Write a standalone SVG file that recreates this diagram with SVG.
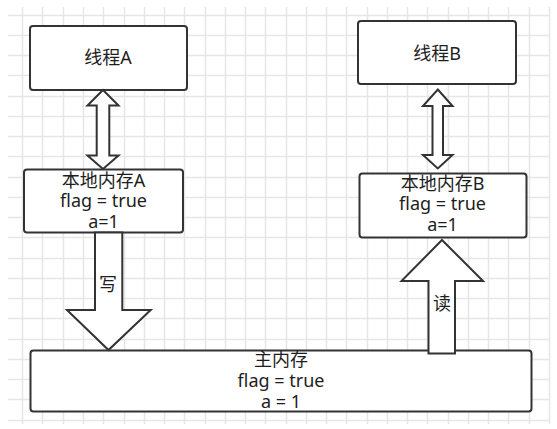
<svg xmlns="http://www.w3.org/2000/svg" width="557" height="429" viewBox="0 0 557 429">
<style>
.grid{stroke:#e6e6e6;stroke-width:1.5;fill:none}
.box{fill:#ffffff;stroke:#333333;stroke-width:2}
.arrow{fill:#ffffff;stroke:#333333;stroke-width:2;stroke-linejoin:miter}
.t{font-family:"Noto Sans","Noto Sans CJK SC",sans-serif;font-size:18px;fill:#1e1e1e;text-anchor:middle}
</style>
<rect width="557" height="429" fill="#ffffff"/>
<path class="grid" d="M22.5 7V424M42.5 7V424M63.5 7V424M83.5 7V424M103.5 7V424M124.5 7V424M144.5 7V424M164.5 7V424M184.5 7V424M205.5 7V424M225.5 7V424M245.5 7V424M265.5 7V424M286.5 7V424M306.5 7V424M326.5 7V424M346.5 7V424M367.5 7V424M387.5 7V424M407.5 7V424M427.5 7V424M448.5 7V424M468.5 7V424M488.5 7V424M508.5 7V424M529.5 7V424M549.5 7V424M8 15.5H550M8 35.5H550M8 55.5H550M8 75.5H550M8 96.5H550M8 116.5H550M8 136.5H550M8 156.5H550M8 177.5H550M8 197.5H550M8 217.5H550M8 237.5H550M8 258.5H550M8 278.5H550M8 298.5H550M8 318.5H550M8 339.5H550M8 359.5H550M8 379.5H550M8 399.5H550M8 420.5H550"/>
<g id="threadA">
<rect class="box" x="30" y="26" width="157" height="64" rx="3"/>
<text class="t" x="108" y="64">线程A</text>
</g>
<g id="threadB">
<rect class="box" x="358" y="21" width="158" height="63" rx="3"/>
<text class="t" x="437" y="59.5">线程B</text>
</g>
<g id="localA">
<rect class="box" x="24" y="169.5" width="159" height="63" rx="3"/>
<text class="t" x="103.5" y="187">本地内存A</text>
<text class="t" x="103.5" y="207">flag = true</text>
<text class="t" x="103.5" y="227.5">a=1</text>
</g>
<g id="localB">
<rect class="box" x="359.5" y="173.5" width="167" height="64" rx="3"/>
<text class="t" x="442.5" y="189.5">本地内存B</text>
<text class="t" x="442.5" y="210">flag = true</text>
<text class="t" x="442.5" y="231">a=1</text>
</g>
<g id="mainMemory">
<rect class="box" x="30.5" y="350.5" width="501" height="61" rx="3"/>
<text class="t" x="281" y="365.7">主内存</text>
<text class="t" x="281" y="386.5">flag = true</text>
<text class="t" x="281" y="408">a = 1</text>
</g>
<g id="connectors">
<polygon class="arrow" points="103,90 118.5,105.5 109.3,105.5 109.3,155.5 118.5,155.5 103,169 87.5,155.5 96.7,155.5 96.7,105.5 87.5,105.5"/>
<polygon class="arrow" points="437.8,89.5 452.5,106 443,106 443,155 452.5,155 437.8,168.5 423,155 432.5,155 432.5,106 423,106"/>
<polygon class="arrow" points="95,232.5 122.3,232.5 122.3,310 150.7,310 108.5,350 67,310 95,310"/>
<text class="t" x="108" y="291">写</text>
<polygon class="arrow" points="442,240 483,281 455,281 455,353.5 428.5,353.5 428.5,281 401.5,281"/>
<text class="t" x="442" y="310">读</text>
</g>
</svg>
